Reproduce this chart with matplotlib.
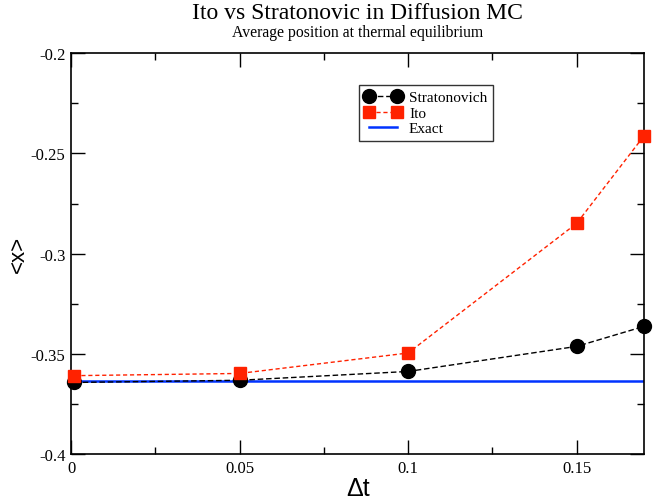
import matplotlib
matplotlib.use("Agg")
import matplotlib.pyplot as plt
import matplotlib.ticker as ticker

# --- data ---
dt = [0.001, 0.05, 0.1, 0.15, 0.17]
strat = [-0.3643, -0.3632, -0.3588, -0.3463, -0.3363]
ito = [-0.3609, -0.3598, -0.3496, -0.2849, -0.2412]
exact_x = [0.0, 0.17]
exact_y = [-0.3637, -0.3637]

serif = "Liberation Serif"
sans = "Liberation Sans"

fig = plt.figure(figsize=(6.64, 5.02), dpi=100)
ax = fig.add_axes([0.107, 0.0936, 0.863, 0.7984])

ax.plot(dt, strat, color="black", linestyle="--", linewidth=1, dashes=(4, 2),
        marker="o", markersize=10, label="Stratonovich", clip_on=False, zorder=3)
ax.plot(dt, ito, color="#ff2200", linestyle="--", linewidth=1, dashes=(3, 2),
        marker="s", markersize=9, label="Ito", clip_on=False, zorder=4)
ax.plot(exact_x, exact_y, color="#0033ff", linewidth=1.8, label="Exact", zorder=2)

ax.set_xlim(0, 0.17)
ax.set_ylim(-0.4, -0.2)

ax.xaxis.set_major_locator(ticker.MultipleLocator(0.05))
ax.xaxis.set_minor_locator(ticker.MultipleLocator(0.025))
ax.yaxis.set_major_locator(ticker.MultipleLocator(0.05))
ax.yaxis.set_minor_locator(ticker.MultipleLocator(0.025))
fmt = ticker.FuncFormatter(lambda v, p: "%g" % round(v, 4))
ax.xaxis.set_major_formatter(fmt)
ax.yaxis.set_major_formatter(fmt)

ax.tick_params(which="both", direction="in", top=True, right=True, width=1)
ax.tick_params(which="major", length=10, labelsize=12, pad=4)
ax.tick_params(which="minor", length=5)
for lab in ax.get_xticklabels() + ax.get_yticklabels():
    lab.set_family(serif)
for s in ax.spines.values():
    s.set_linewidth(1.2)

ax.set_xlabel("\u0394t", fontsize=18, family=sans, labelpad=0)
ax.set_ylabel("<x>", fontsize=16, family=sans)
ax.yaxis.set_label_coords(-0.074, 0.5)

fig.text(0.538, 0.974, "Ito vs Stratonovic in Diffusion MC", ha="center", va="center",
         fontsize=17, family=serif)
fig.text(0.538, 0.934, "Average position at thermal equilibrium", ha="center", va="center",
         fontsize=11.3, family=serif)

leg = ax.legend(loc="upper left", bbox_to_anchor=(0.503, 0.92), frameon=True,
                fancybox=False, edgecolor="black", prop={"family": serif, "size": 11},
                numpoints=2, handlelength=2.4, handletextpad=0.5, labelspacing=0.12,
                borderpad=0.35, borderaxespad=0)
leg.get_frame().set_linewidth(1)

fig.savefig("out.png", dpi=100)
